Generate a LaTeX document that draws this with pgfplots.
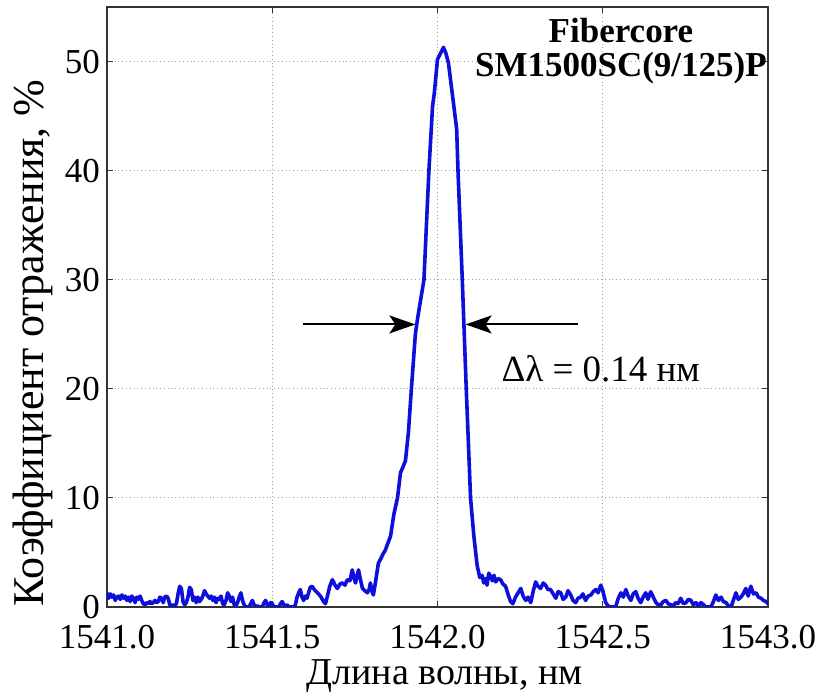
\documentclass[border=0pt]{standalone}
\usepackage{fontspec}
\setmainfont{Liberation Serif}
\usepackage{pgfplots}
\pgfplotsset{compat=1.18}
\usetikzlibrary{arrows.meta}
\definecolor{curve}{RGB}{15,15,220}
\pgfplotstableread{
x y
1541.000 1.3
1541.005 0.8
1541.010 1.2
1541.015 0.9
1541.020 1.1
1541.025 0.6
1541.030 0.9
1541.035 1.0
1541.040 0.7
1541.045 1.1
1541.050 0.8
1541.055 1.0
1541.060 0.6
1541.065 0.9
1541.070 0.5
1541.075 1.0
1541.080 0.8
1541.085 0.4
1541.090 0.9
1541.095 0.7
1541.100 1.0
1541.105 0.6
1541.110 0.3
1541.115 0.2
1541.120 0.4
1541.125 0.3
1541.130 0.5
1541.135 0.3
1541.140 0.4
1541.145 0.6
1541.150 0.4
1541.155 0.5
1541.160 0.9
1541.165 0.8
1541.170 0.4
1541.175 0.9
1541.180 1.0
1541.185 0.8
1541.190 0.2
1541.195 0.1
1541.200 0.2
1541.205 0.1
1541.210 0.3
1541.215 1.2
1541.220 1.9
1541.225 1.7
1541.230 0.5
1541.235 0.2
1541.240 0.4
1541.245 0.9
1541.250 1.8
1541.255 1.6
1541.260 0.6
1541.265 0.9
1541.270 0.4
1541.275 0.9
1541.280 0.5
1541.285 0.7
1541.290 1.0
1541.295 1.5
1541.300 1.2
1541.305 1.0
1541.310 0.8
1541.315 1.0
1541.320 0.6
1541.325 0.9
1541.330 0.4
1541.335 0.8
1541.340 0.7
1541.345 1.0
1541.350 0.3
1541.355 0.2
1541.360 0.6
1541.365 1.3
1541.370 1.0
1541.375 0.5
1541.380 0.9
1541.385 0.2
1541.390 0.1
1541.395 0.4
1541.400 0.9
1541.405 1.3
1541.410 0.6
1541.415 0.2
1541.420 0.0
1541.430 0.0
1541.435 0.3
1541.440 0.6
1541.445 0.2
1541.450 0.0
1541.455 0.1
1541.460 0.0
1541.470 0.0
1541.475 0.4
1541.480 0.6
1541.485 0.2
1541.490 0.1
1541.495 0.4
1541.500 0.3
1541.505 0.0
1541.520 0.0
1541.525 0.3
1541.530 0.5
1541.535 0.2
1541.540 0.1
1541.545 0.2
1541.550 0.0
1541.565 0.0
1541.570 0.2
1541.575 0.9
1541.580 1.3
1541.585 1.6
1541.590 0.9
1541.595 0.6
1541.600 1.0
1541.605 0.8
1541.610 1.3
1541.615 1.8
1541.620 1.9
1541.625 1.7
1541.630 1.5
1541.640 1.2
1541.648 0.9
1541.655 0.5
1541.661 0.3
1541.667 1.0
1541.674 1.9
1541.682 2.5
1541.690 2.0
1541.697 1.7
1541.705 2.1
1541.712 2.2
1541.720 2.0
1541.727 2.5
1541.735 2.4
1541.742 3.4
1541.748 2.6
1541.752 2.2
1541.757 2.9
1541.761 3.4
1541.767 2.5
1541.773 1.7
1541.780 1.5
1541.788 1.3
1541.793 1.6
1541.797 2.2
1541.802 1.4
1541.806 1.1
1541.812 2.2
1541.821 4.0
1541.828 4.4
1541.836 4.9
1541.842 5.2
1541.848 5.7
1541.858 6.5
1541.868 8.5
1541.879 10.0
1541.888 12.3
1541.895 12.8
1541.903 13.4
1541.912 16.0
1541.921 20.0
1541.933 25.0
1541.940 26.5
1541.959 30.0
1541.974 40.0
1541.985 45.9
1541.990 47.0
1542.000 50.2
1542.010 50.8
1542.018 51.3
1542.025 50.8
1542.033 49.9
1542.045 47.0
1542.058 43.8
1542.062 40.0
1542.075 30.0
1542.087 20.0
1542.100 10.0
1542.110 6.5
1542.120 3.8
1542.128 2.7
1542.135 2.9
1542.140 2.2
1542.145 2.6
1542.150 2.0
1542.155 3.1
1542.161 2.8
1542.166 2.4
1542.171 2.9
1542.176 2.3
1542.183 2.6
1542.191 2.5
1542.198 2.1
1542.206 1.9
1542.213 1.2
1542.221 0.5
1542.228 0.3
1542.236 0.9
1542.244 1.3
1542.252 1.7
1542.259 1.0
1542.267 0.6
1542.274 0.9
1542.282 0.4
1542.290 1.5
1542.297 2.3
1542.304 1.9
1542.312 1.7
1542.320 2.2
1542.327 2.0
1542.334 1.6
1542.342 1.6
1542.350 1.2
1542.358 0.8
1542.365 1.4
1542.373 1.3
1542.380 0.7
1542.388 0.9
1542.395 1.5
1542.403 1.1
1542.410 0.6
1542.418 0.4
1542.425 0.8
1542.433 0.9
1542.440 1.2
1542.448 0.6
1542.456 1.0
1542.464 1.1
1542.471 1.4
1542.479 1.6
1542.486 1.3
1542.494 2.0
1542.500 1.5
1542.509 0.4
1542.516 0.1
1542.524 0.0
1542.539 0.0
1542.547 0.8
1542.555 1.3
1542.562 0.9
1542.570 1.6
1542.577 1.0
1542.585 0.6
1542.592 1.2
1542.600 1.4
1542.607 0.8
1542.615 0.4
1542.622 0.9
1542.630 1.3
1542.637 0.7
1542.645 1.4
1542.653 0.9
1542.661 0.4
1542.668 0.2
1542.676 0.2
1542.683 0.5
1542.691 0.6
1542.698 0.3
1542.706 0.2
1542.713 0.1
1542.721 0.4
1542.728 0.3
1542.736 0.8
1542.744 0.3
1542.752 0.4
1542.759 0.7
1542.767 0.6
1542.774 0.2
1542.782 0.4
1542.790 0.1
1542.797 0.4
1542.805 0.2
1542.812 0.0
1542.827 0.0
1542.835 0.5
1542.842 1.1
1542.850 0.6
1542.858 0.9
1542.865 0.5
1542.873 0.4
1542.880 0.1
1542.888 0.0
1542.895 0.6
1542.903 1.3
1542.910 0.7
1542.918 0.9
1542.925 1.2
1542.933 1.7
1542.940 1.0
1542.948 1.9
1542.956 1.2
1542.964 1.3
1542.971 0.9
1542.979 0.8
1542.986 0.6
1542.994 0.5
1543.000 0.3
}\spectrum
\begin{document}
\begin{tikzpicture}
\begin{axis}[
  scale only axis, width=330.5pt, height=300pt,
  xmin=1541, xmax=1543, ymin=0, ymax=55,
  xtick={1541,1541.5,1542,1542.5,1543},
  xticklabels={1541.0,1541.5,1542.0,1542.5,1543.0},
  ytick={0,10,20,30,40,50},
  yticklabels={0,10,20,30,40,50},
  grid=major,
  major grid style={gray!75, line width=0.5pt, dash pattern=on 0.5pt off 1.4pt},
  axis line style={black!80, line width=0.8pt},
  tick style={black!80, line width=0.5pt},
  major tick length=3pt,
  tick align=inside,
  tick label style={font=\fontsize{17.5}{20}\selectfont},
  xticklabel style={yshift=-5.5pt},
  xlabel={Длина волны, нм},
  ylabel={Коэффициент отражения, \%},
  xlabel style={font=\fontsize{19}{21}\selectfont, at={(axis description cs:0.511,-0.13)}, anchor=base},
  ylabel style={font=\fontsize{22}{24}\selectfont, at={(axis description cs:-0.0968,0.44)}, anchor=base},
]
\addplot[curve, line width=1.8pt, line join=round] table[x=x,y=y] {\spectrum};
\draw[black, line width=1pt, -{Stealth[length=13pt,width=9pt,inset=3pt]}] (axis cs:1541.594,25.9) -- (axis cs:1541.933,25.9);
\draw[black, line width=1pt, -{Stealth[length=13pt,width=9pt,inset=3pt]}] (axis cs:1542.424,25.9) -- (axis cs:1542.085,25.9);
\node[font=\fontsize{18.5}{20}\selectfont, anchor=base] at (axis cs:1542.494,20.7) {Δλ = 0.14 нм};
\node[font=\bfseries\fontsize{17.5}{17}\selectfont, align=center] at (axis cs:1542.555,51.0) {Fibercore\\SM1500SC(9/125)P};
\end{axis}
\pgfresetboundingbox
\path[use as bounding box] ([xshift=-53.5pt,yshift=-45pt]current axis.south west) rectangle ([xshift=29pt,yshift=3.5pt]current axis.north east);
\end{tikzpicture}
\end{document}
